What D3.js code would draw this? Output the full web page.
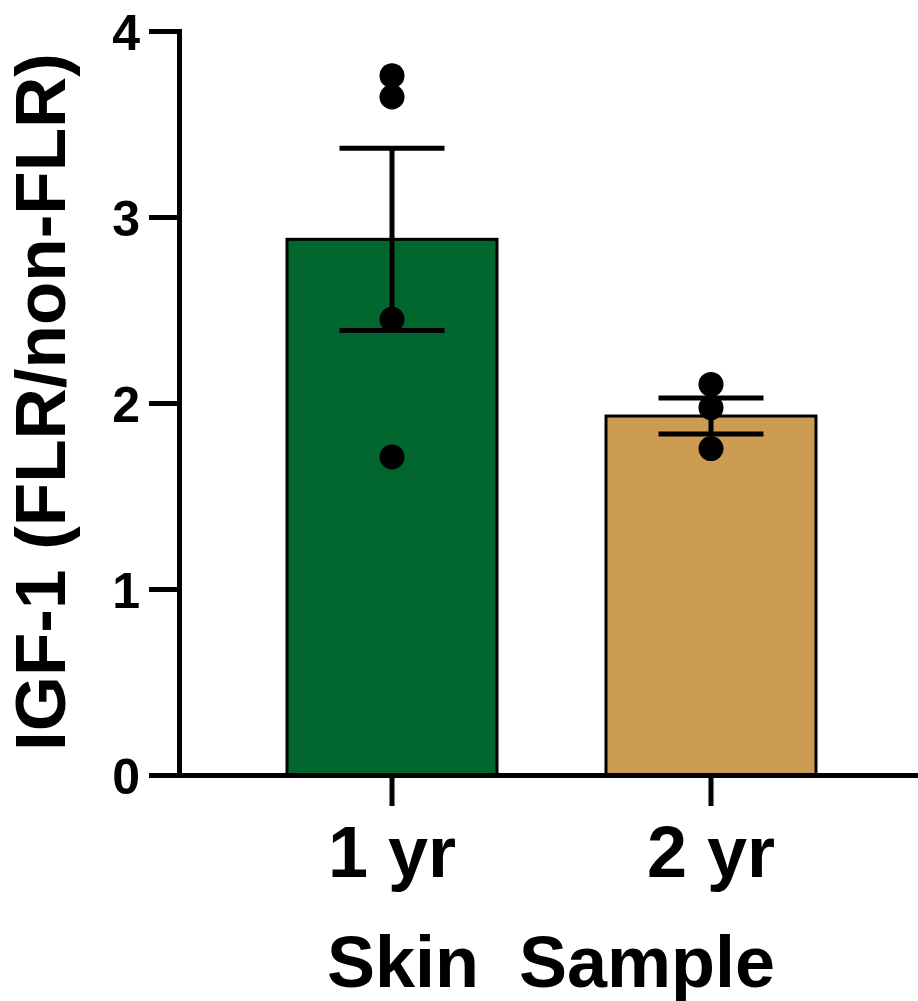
<!DOCTYPE html>
<html>
<head>
<meta charset="utf-8">
<script src="https://cdn.jsdelivr.net/npm/d3@7"></script>
<style>
  html, body { margin: 0; padding: 0; background: #fff; }
  svg { display: block; font-family: "Liberation Sans", Arial, sans-serif; font-weight: bold; }
</style>
</head>
<body>
<svg id="chart" width="918" height="1001"></svg>
<script>
// Groups and their fill colours
const groups = ["1 yr", "2 yr"];
const barColors = ["#02662f", "#cb9c52"];

// Group means and standard errors of the mean
const means = [2.88, 1.93];
const sems = [0.49, 0.097];

// Individual observations per group
const points1yr = [3.76, 3.645, 2.45, 1.71];
const points2yr = [2.10, 1.975, 1.755];
const pointsByGroup = [points1yr, points2yr];

// Axis ticks and titles
const yTicks = [0, 1, 2, 3, 4];
const yTitle = "IGF-1 (FLR/non-FLR)";
const xTitle = "Skin  Sample";

const svg = d3.select("#chart");

const y = d3.scaleLinear().domain([0, 4]).range([775, 31]);
const x = d3.scaleBand()
  .domain(groups)
  .range([179, 924])
  .paddingInner(0.3417)
  .paddingOuter(0.3386);

const rows = groups.map((g, i) => ({
  group: g, mean: means[i], sem: sems[i], color: barColors[i], pts: pointsByGroup[i]
}));

// Bars
svg.append("g").selectAll("rect")
  .data(rows)
  .join("rect")
  .attr("x", d => x(d.group))
  .attr("y", d => y(d.mean))
  .attr("width", x.bandwidth())
  .attr("height", d => y(0) - y(d.mean))
  .attr("fill", d => d.color)
  .attr("stroke", "#000")
  .attr("stroke-width", 3);

// Error bars (mean ± SEM)
const capHalf = x.bandwidth() / 4;
const eb = svg.append("g").attr("stroke", "#000").attr("stroke-width", 5);
rows.forEach(d => {
  const cx = x(d.group) + x.bandwidth() / 2;
  eb.append("line")
    .attr("x1", cx).attr("x2", cx)
    .attr("y1", y(d.mean + d.sem)).attr("y2", y(d.mean - d.sem));
  [d.mean + d.sem, d.mean - d.sem].forEach(v => {
    eb.append("line")
      .attr("x1", cx - capHalf).attr("x2", cx + capHalf)
      .attr("y1", y(v)).attr("y2", y(v));
  });
});

// Individual points
rows.forEach(d => {
  const cx = x(d.group) + x.bandwidth() / 2;
  svg.append("g").selectAll("circle")
    .data(d.pts)
    .join("circle")
    .attr("cx", cx)
    .attr("cy", v => y(v))
    .attr("r", 12.5)
    .attr("fill", "#000");
});

// Y axis
const yAxis = svg.append("g")
  .attr("transform", "translate(179,0)")
  .call(d3.axisLeft(y).tickValues(yTicks).tickFormat(d3.format("d")).tickSize(30).tickSizeOuter(0).tickPadding(9));
yAxis.select(".domain").attr("stroke-width", 5).attr("stroke-linecap", "square");
yAxis.selectAll(".tick line").attr("stroke-width", 5);
yAxis.selectAll(".tick text")
  .attr("font-size", 50)
  .attr("font-family", "Liberation Sans, Arial, sans-serif")
  .attr("font-weight", "bold")
  .attr("fill", "#000")
  .attr("dy", "0.36em");

// X axis
const xAxis = svg.append("g")
  .attr("transform", "translate(0,775)")
  .call(d3.axisBottom(x).tickSize(31).tickSizeOuter(0).tickPadding(20));
xAxis.select(".domain").attr("stroke-width", 5);
xAxis.selectAll(".tick line").attr("stroke-width", 5);
xAxis.selectAll(".tick text")
  .attr("font-size", 72)
  .attr("font-family", "Liberation Sans, Arial, sans-serif")
  .attr("font-weight", "bold")
  .attr("fill", "#000")
  .attr("dy", "0.71em");

// Axis titles
svg.append("text")
  .attr("transform", "translate(65,402) rotate(-90)")
  .attr("text-anchor", "middle")
  .attr("font-size", 71)
  .attr("fill", "#000")
  .text(yTitle);

svg.append("text")
  .attr("x", 551)
  .attr("y", 987)
  .attr("text-anchor", "middle")
  .attr("font-size", 72)
  .attr("fill", "#000")
  .style("white-space", "pre")
  .text(xTitle);
</script>
</body>
</html>
